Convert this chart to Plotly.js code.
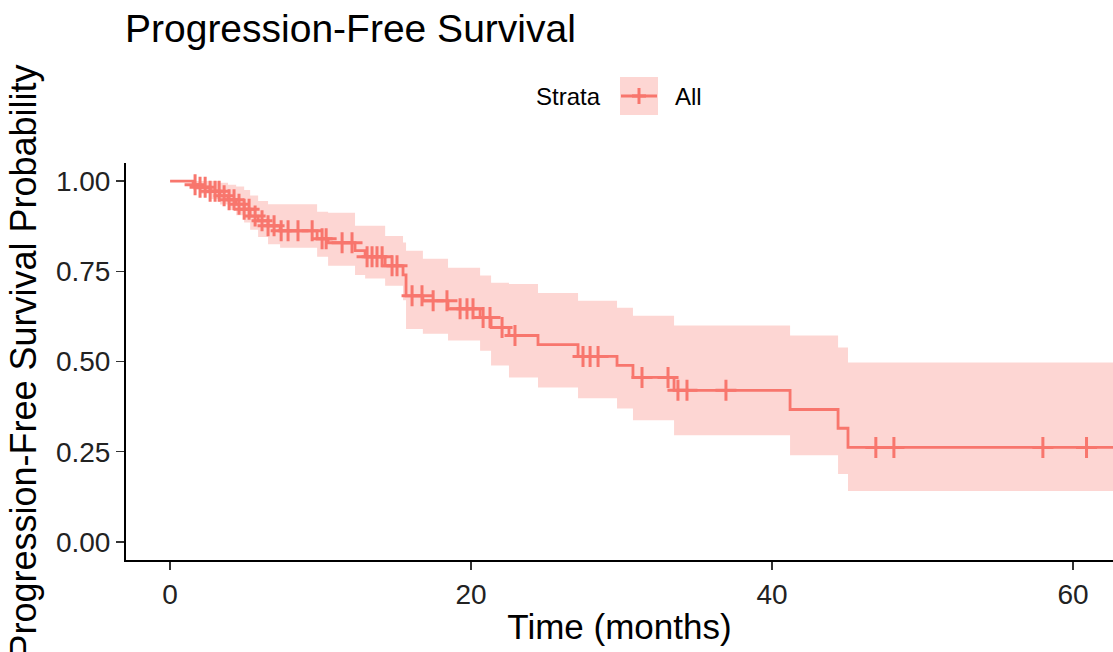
<!DOCTYPE html>
<html><head><meta charset="utf-8">
<script src="https://cdn.plot.ly/plotly-3.0.1.min.js"></script>
<style>html,body{margin:0;padding:0;background:#fff}#chart{width:1113px;height:652px}</style>
</head><body><div id="chart"></div>
<script>
// Kaplan-Meier estimate (step changes)
const eventTimes = [0, 1.53, 1.99, 2.66, 3.32, 3.85, 4.39, 4.92, 5.32, 5.85, 6.51, 7.31, 9.77, 10.5, 12.29, 12.96, 14.29, 15.48, 15.68, 16.8, 18.47, 20.6, 21.33, 22.52, 24.45, 27.11, 29.7, 30.76, 33.49, 41.2, 44.39, 45.05];
const survival   = [1, 0.990, 0.983, 0.972, 0.959, 0.948, 0.936, 0.922, 0.903, 0.890, 0.876, 0.862, 0.840, 0.829, 0.807, 0.790, 0.765, 0.740, 0.682, 0.668, 0.646, 0.622, 0.594, 0.572, 0.547, 0.514, 0.489, 0.456, 0.420, 0.367, 0.315, 0.262];
const lowerCI    = [1, 0.975, 0.965, 0.950, 0.935, 0.920, 0.905, 0.885, 0.865, 0.845, 0.825, 0.815, 0.790, 0.765, 0.740, 0.730, 0.710, 0.670, 0.590, 0.577, 0.558, 0.530, 0.489, 0.456, 0.428, 0.398, 0.370, 0.337, 0.296, 0.240, 0.188, 0.141];
const upperCI    = [1, 1, 1, 1, 0.995, 0.990, 0.985, 0.975, 0.960, 0.945, 0.936, 0.936, 0.915, 0.912, 0.876, 0.876, 0.848, 0.830, 0.807, 0.785, 0.760, 0.738, 0.718, 0.715, 0.690, 0.668, 0.649, 0.627, 0.600, 0.572, 0.539, 0.497];
const lastTime = 64;
// censoring times ("+" marks)
const censorTimes = [1.66, 1.99, 2.33, 2.66, 2.99, 3.26, 3.59, 3.92, 4.25, 4.58, 4.92, 5.25, 5.65, 6.11, 6.51, 6.91, 7.38, 7.84, 8.5, 9.44, 10.1, 10.37, 11.43, 12.09, 13.09, 13.42, 13.75, 14.09, 14.75, 15.08, 16.08, 16.74, 17.48, 18.4, 19.27, 19.73, 20.13, 20.8, 21.26, 22.06, 22.92, 27.44, 27.91, 28.44, 31.36, 33.09, 33.75, 34.35, 36.94, 46.9, 48.1, 58.0, 60.9];

const strataName = 'All';
const legendTitle = 'Strata';
const titleText = 'Progression-Free Survival';
const xTitle = 'Time (months)';
const yTitle = 'Progression-Free Survival Probability';
const xTicks = [0, 20, 40, 60];
const yTicks = [0, 0.25, 0.5, 0.75, 1];
const yTickText = ['0.00', '0.25', '0.50', '0.75', '1.00'];

const col = '#F8766D';
const fillCol = 'rgba(248,118,109,0.3)';

const xs = eventTimes.concat([lastTime]);
const ext = a => a.concat([a[a.length - 1]]);
function stepValue(t) {
  let v = survival[0];
  for (let i = 0; i < eventTimes.length; i++) if (eventTimes[i] <= t) v = survival[i];
  return v;
}

const crossMarker = {symbol: 'cross-thin', size: 15, line: {width: 3, color: col}, color: col};
const traces = [
  {x: xs, y: ext(lowerCI), mode: 'lines', line: {shape: 'hv', width: 0, color: fillCol}, hoverinfo: 'skip', showlegend: false},
  {x: xs, y: ext(upperCI), mode: 'lines', line: {shape: 'hv', width: 0, color: fillCol}, fill: 'tonexty', fillcolor: fillCol, hoverinfo: 'skip', showlegend: false},
  {x: xs, y: ext(survival), mode: 'lines', name: strataName, line: {shape: 'hv', width: 2.8, color: col}, showlegend: false},
  {x: censorTimes, y: censorTimes.map(stepValue), mode: 'markers', name: strataName, marker: crossMarker, showlegend: false}
];

// pixel helpers for the legend key (plot area: x 126..1113, y 163..560)
const px = v => (v - 126) / 987;
const py = v => (560 - v) / 397;
const keyY = py(96);

const fontFam = '"Liberation Sans", Arial, sans-serif';
const layout = {
  width: 1113, height: 652,
  margin: {l: 126, r: 0, t: 163, b: 92},
  paper_bgcolor: '#fff', plot_bgcolor: '#fff',
  font: {family: fontFam, color: '#000'},
  showlegend: false,
  title: {text: titleText, font: {size: 39, color: '#000', family: fontFam}, x: 125/1113, xanchor: 'left', xref: 'container', y: 1 - 28/652, yanchor: 'middle', yref: 'container'},
  xaxis: {range: [-2.93, 62.66], tickvals: xTicks, ticktext: xTicks.map(String), showgrid: false, zeroline: false,
    showline: true, linecolor: '#000', linewidth: 2, ticks: 'outside', ticklen: 8, tickwidth: 1.5, tickcolor: '#333',
    tickfont: {size: 28, color: '#222'}, title: {text: xTitle, font: {size: 35, color: '#000'}, standoff: 6}},
  yaxis: {range: [-0.05, 1.05], tickvals: yTicks, ticktext: yTickText, showgrid: false, zeroline: false,
    showline: true, linecolor: '#000', linewidth: 2, ticks: 'outside', ticklen: 8, tickwidth: 1.5, tickcolor: '#333',
    tickfont: {size: 28, color: '#222'}, title: {text: yTitle, font: {size: 36, color: '#000'}, standoff: 8}},
  annotations: [
    {text: legendTitle, xref: 'paper', yref: 'paper', x: px(603), y: keyY, xanchor: 'right', yanchor: 'middle', showarrow: false, font: {size: 24, color: '#000'}},
    {text: strataName, xref: 'paper', yref: 'paper', x: px(673), y: keyY, xanchor: 'left', yanchor: 'middle', showarrow: false, font: {size: 24, color: '#000'}}
  ],
  shapes: [
    {type: 'rect', xref: 'paper', yref: 'paper', x0: px(620), x1: px(658), y0: py(115), y1: py(77), fillcolor: fillCol, line: {width: 0}, layer: 'above'},
    {type: 'line', xref: 'paper', yref: 'paper', x0: px(621), x1: px(657), y0: keyY, y1: keyY, line: {color: col, width: 2.8}, layer: 'above'},
    {type: 'line', xref: 'paper', yref: 'paper', x0: px(639), x1: px(639), y0: py(104), y1: py(88), line: {color: col, width: 3}, layer: 'above'},
    {type: 'line', xref: 'paper', yref: 'paper', x0: px(632), x1: px(646), y0: keyY, y1: keyY, line: {color: col, width: 3.2}, layer: 'above'}
  ]
};
Plotly.newPlot('chart', traces, layout, {displayModeBar: false, staticPlot: true});
</script></body></html>
